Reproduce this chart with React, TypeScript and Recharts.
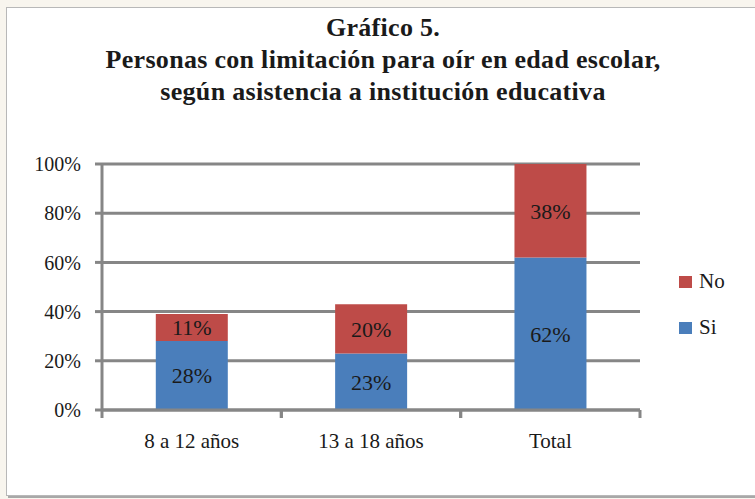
import { BarChart, Bar, XAxis, YAxis, CartesianGrid, Legend, LabelList } from "recharts";

const categories = ["8 a 12 años", "13 a 18 años", "Total"];
const siValues = [28, 23, 62];
const noValues = [11, 20, 38];
const yTicks = [0, 20, 40, 60, 80, 100];

const data = categories.map((c, i) => ({ cat: c, si: siValues[i], no: noValues[i] }));

const FONT = "'Liberation Serif', 'Times New Roman', serif";
const GRID = "#868686";
const BLUE = "#4A7EBB";
const RED = "#BE4B48";

// plot area: x 102..640
const BAND = (640 - 102) / categories.length;

function CatTick(props: any) {
  const { x, y, payload } = props;
  const half = BAND / 2;
  return (
    <g>
      <line x1={x - half} y1={y - 8} x2={x - half} y2={y} stroke={GRID} strokeWidth={3} />
      <line x1={x + half} y1={y - 8} x2={x + half} y2={y} stroke={GRID} strokeWidth={3} />
      <text x={x} y={y + 30} textAnchor="middle" fontFamily={FONT} fontSize={21} fill="#1a1a1a">
        {payload.value}
      </text>
    </g>
  );
}

function LegendBox() {
  const items = [
    { name: "No", color: RED },
    { name: "Si", color: BLUE },
  ];
  return (
    <div style={{ fontFamily: FONT, fontSize: 21, color: "#1a1a1a" }}>
      {items.map((it) => (
        <div key={it.name} style={{ display: "flex", alignItems: "center", height: 23, marginBottom: 23 }}>
          <span style={{ width: 13, height: 12, background: it.color, display: "inline-block", marginRight: 7 }} />
          <span>{it.name}</span>
        </div>
      ))}
    </div>
  );
}

export default function App() {
  return (
    <div style={{ position: "absolute", left: 0, top: 0, width: 755, height: 499, background: "#f8f5ee", overflow: "hidden" }}>
      <div
        style={{
          position: "absolute",
          left: 6,
          top: 7,
          width: 770,
          height: 487,
          background: "#fff",
          border: "1px solid #b8b8b8",
          boxShadow: "2px 2px 0 #a8a8a8",
        }}
      />
      <div
        style={{
          position: "absolute",
          left: 0,
          top: 12,
          width: 766,
          textAlign: "center",
          fontFamily: FONT,
          fontWeight: "bold",
          fontSize: 26,
          letterSpacing: 0.3,
          lineHeight: "32px",
          color: "#1a1a1a",
        }}
      >
        <div>Gráfico 5.</div>
        <div>Personas con limitación para oír en edad escolar,</div>
        <div>según asistencia a institución educativa</div>
      </div>
      <div style={{ position: "absolute", left: 0, top: 0 }}>
        <BarChart width={755} height={499} data={data} margin={{ top: 164, right: 115, bottom: 39, left: 42 }} barCategoryGap="30%">
          <CartesianGrid vertical={false} stroke={GRID} strokeWidth={3} />
          <XAxis
            dataKey="cat"
            height={50}
            axisLine={{ stroke: GRID, strokeWidth: 3 }}
            tickLine={false}
            tick={<CatTick />}
            interval={0}
          />
          <YAxis
            width={60}
            domain={[0, 100]}
            ticks={yTicks}
            tickFormatter={(v: number) => `${v}%`}
            axisLine={{ stroke: GRID, strokeWidth: 3 }}
            tickLine={{ stroke: GRID, strokeWidth: 3 }}
            tickSize={7}
            tickMargin={14}
            tick={{ fontFamily: FONT, fontSize: 20, fill: "#1a1a1a" }}
          />
          <Legend
            layout="vertical"
            align="center"
            verticalAlign="middle"
            content={<LegendBox />}
            wrapperStyle={{ position: "absolute", left: 679, top: 270, width: 70 }}
          />
          <Bar dataKey="si" name="Si" stackId="a" fill={BLUE} isAnimationActive={false}>
            <LabelList dataKey="si" position="center" formatter={(v: any) => `${v}%`} fill="#1a1a1a" fontFamily={FONT} fontSize={22} />
          </Bar>
          <Bar dataKey="no" name="No" stackId="a" fill={RED} isAnimationActive={false}>
            <LabelList dataKey="no" position="center" formatter={(v: any) => `${v}%`} fill="#1a1a1a" fontFamily={FONT} fontSize={22} />
          </Bar>
        </BarChart>
      </div>
    </div>
  );
}
